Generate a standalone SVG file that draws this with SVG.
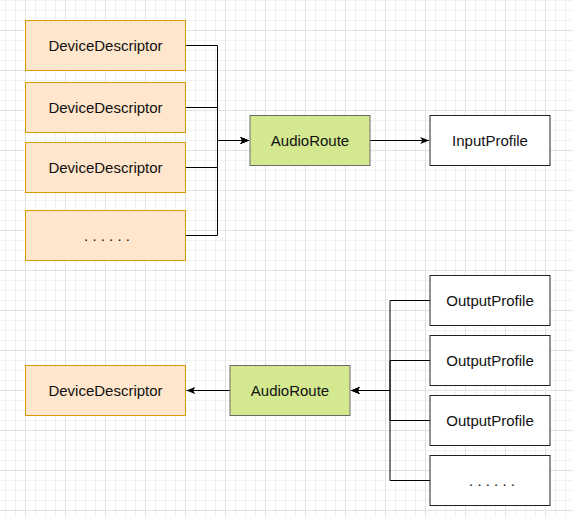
<svg xmlns="http://www.w3.org/2000/svg" width="573" height="517" viewBox="0 0 573 517">
  <defs>
    <pattern id="minor" x="5" y="0" width="10" height="10" patternUnits="userSpaceOnUse">
      <rect x="0" y="0" width="1" height="10" fill="#f1f1f1"/>
      <rect x="0" y="0" width="10" height="1" fill="#f1f1f1"/>
    </pattern>
    <pattern id="major" x="25" y="30" width="40" height="40" patternUnits="userSpaceOnUse">
      <rect x="0" y="0" width="1" height="40" fill="#e2e2e2"/>
      <rect x="0" y="0" width="40" height="1" fill="#e2e2e2"/>
    </pattern>
    <marker id="arrow" viewBox="0 0 10 8" refX="10" refY="4" markerWidth="9" markerHeight="7" markerUnits="userSpaceOnUse" orient="auto">
      <path d="M0,0 L10,4 L0,8 L2.5,4 Z" fill="#000"/>
    </marker>
  </defs>
  <style>
    .dev rect { fill: #ffe6cc; stroke: #d79b00; stroke-width: 1; }
    .route rect { fill: #d3e88f; stroke: #6a6a6a; stroke-width: 1; }
    .prof rect { fill: #ffffff; stroke: #222; stroke-width: 1; }
    text { font-family: "Liberation Sans", Arial, sans-serif; font-size: 15px; fill: #111; text-anchor: middle; }
    .edges path { fill: none; stroke: #000; stroke-width: 1; }
  </style>
  <rect width="573" height="517" fill="#ffffff"/>
  <rect width="573" height="517" fill="url(#minor)"/>
  <rect width="573" height="517" fill="url(#major)"/>

  <g class="edges">
    <path d="M185.5,45.5 H217.5 V140.5 H249" marker-end="url(#arrow)"/>
    <path d="M185.5,107.5 H217.5 V140.5 H249" marker-end="url(#arrow)"/>
    <path d="M185.5,167.5 H217.5 V140.5 H249" marker-end="url(#arrow)"/>
    <path d="M185.5,235.5 H217.5 V140.5 H249" marker-end="url(#arrow)"/>
    <path d="M370,140.5 H429" marker-end="url(#arrow)"/>
    <path d="M430,300.5 H390 V390.5 H351" marker-end="url(#arrow)"/>
    <path d="M430,360.5 H390 V390.5 H351" marker-end="url(#arrow)"/>
    <path d="M430,420.5 H390 V390.5 H351" marker-end="url(#arrow)"/>
    <path d="M430,480.5 H390 V390.5 H351" marker-end="url(#arrow)"/>
    <path d="M230,390.5 H186.5" marker-end="url(#arrow)"/>
  </g>

  <g id="dev1" class="dev"><rect x="25.5" y="20.5" width="160" height="50"/><text x="105.5" y="51">DeviceDescriptor</text></g>
  <g id="dev2" class="dev"><rect x="25.5" y="82.5" width="160" height="50"/><text x="105.5" y="113">DeviceDescriptor</text></g>
  <g id="dev3" class="dev"><rect x="25.5" y="142.5" width="160" height="50"/><text x="105.5" y="173">DeviceDescriptor</text></g>
  <g id="dev4" class="dev"><rect x="25.5" y="210.5" width="160" height="50"/><text x="107" y="241">. . . . . .</text></g>

  <g id="route1" class="route"><rect x="250" y="115.5" width="120" height="50"/><text x="310" y="146">AudioRoute</text></g>
  <g id="input" class="prof"><rect x="430" y="115.5" width="120" height="50"/><text x="490" y="146">InputProfile</text></g>

  <g id="dev5" class="dev"><rect x="25.5" y="365.5" width="160" height="50"/><text x="105.5" y="396">DeviceDescriptor</text></g>
  <g id="route2" class="route"><rect x="230" y="365.5" width="120" height="50"/><text x="290" y="396">AudioRoute</text></g>

  <g id="out1" class="prof"><rect x="430" y="275.5" width="120" height="50"/><text x="490" y="306">OutputProfile</text></g>
  <g id="out2" class="prof"><rect x="430" y="335.5" width="120" height="50"/><text x="490" y="366">OutputProfile</text></g>
  <g id="out3" class="prof"><rect x="430" y="395.5" width="120" height="50"/><text x="490" y="426">OutputProfile</text></g>
  <g id="out4" class="prof"><rect x="430" y="455.5" width="120" height="50"/><text x="492" y="486">. . . . . .</text></g>
</svg>
